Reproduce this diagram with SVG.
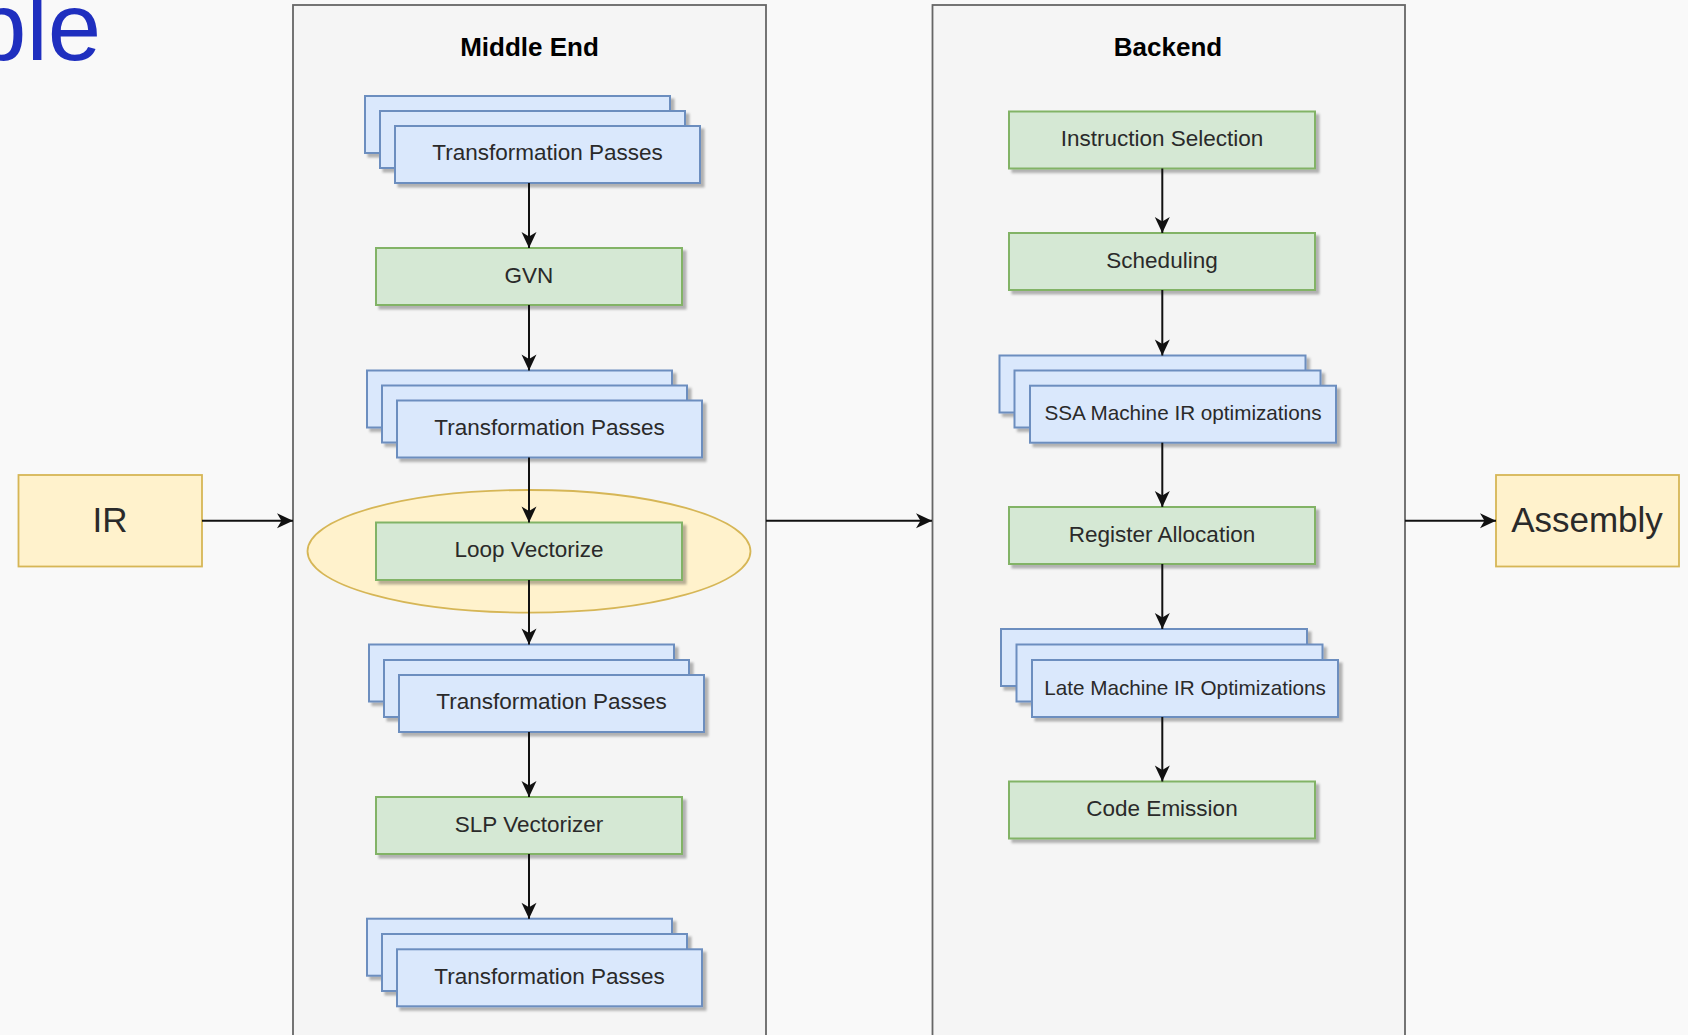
<svg xmlns="http://www.w3.org/2000/svg" width="1688" height="1035" viewBox="0 0 1688 1035">
<defs>
<style>
.bg{fill:#f9f9f9}
.cont{fill:#f5f5f5;stroke:#666;stroke-width:1.8}
.title{font-family:"Liberation Sans",Arial,sans-serif;font-weight:bold;font-size:26px;fill:#000;text-anchor:middle}
.g{fill:#d5e8d4;stroke:#82b366;stroke-width:2}
.b{fill:#dae8fc;stroke:#6c8ebf;stroke-width:2}
.y{fill:#fff2cc;stroke:#d6b656;stroke-width:1.8}
.t{font-family:"Liberation Sans",Arial,sans-serif;font-size:22.5px;fill:#2a2a2a;text-anchor:middle}
.ts{font-family:"Liberation Sans",Arial,sans-serif;font-size:20.7px;fill:#2a2a2a;text-anchor:middle}
.tl{font-family:"Liberation Sans",Arial,sans-serif;font-size:35px;fill:#2a2a2a;text-anchor:middle}
.sh{filter:url(#shadow)}
.edge{fill:none;stroke:#111;stroke-width:2;marker-end:url(#arr)}
</style>
<filter id="shadow" x="-10%" y="-20%" width="130%" height="150%">
<feDropShadow dx="3.5" dy="3.5" stdDeviation="0.9" flood-color="#000" flood-opacity="0.28"/>
</filter>
<marker id="arr" viewBox="0 0 20 20" markerUnits="userSpaceOnUse" markerWidth="20" markerHeight="20" refX="18" refY="10" orient="auto">
<path d="M2,2.5 L18,10 L2,17.5 L6.5,10 Z" fill="#111"/>
</marker>
</defs>
<rect class="bg" x="0" y="0" width="1688" height="1035"/>
<text x="-27" y="60" font-family="'Liberation Sans',Arial,sans-serif" font-size="96" fill="#1f2fbf">ble</text>

<g id="middle-end">
<rect class="cont" x="293" y="5" width="473" height="1040"/>
<text class="title" x="529.5" y="56">Middle End</text>
</g>
<g id="backend">
<rect class="cont" x="932.5" y="5" width="472.5" height="1040"/>
<text class="title" x="1168" y="56">Backend</text>
</g>

<g id="ir"><rect class="y" x="18.5" y="475" width="183.5" height="91.5"/><text class="tl" x="110" y="532">IR</text></g>
<g id="assembly"><rect class="y" x="1496" y="475" width="183" height="91.5"/><text class="tl" x="1587" y="532">Assembly</text></g>

<g id="tp1">
<rect class="b sh" x="365" y="96" width="305" height="57"/>
<rect class="b sh" x="380" y="111" width="305" height="57"/>
<rect class="b sh" x="395" y="126" width="305" height="57"/>
<text class="t" x="547.5" y="160">Transformation Passes</text>
</g>
<g id="gvn"><rect class="g sh" x="376" y="248" width="306" height="57"/><text class="t" x="529" y="282.5">GVN</text></g>
<g id="tp2">
<rect class="b sh" x="367" y="370.5" width="305" height="57"/>
<rect class="b sh" x="382" y="385.5" width="305" height="57"/>
<rect class="b sh" x="397" y="400.5" width="305" height="57"/>
<text class="t" x="549.5" y="434.5">Transformation Passes</text>
</g>
<g id="loop-vectorize">
<ellipse class="y" cx="529" cy="551.3" rx="221.5" ry="61.3"/>
<rect class="g sh" x="376" y="522.5" width="306" height="57.5"/><text class="t" x="529" y="557">Loop Vectorize</text>
</g>
<g id="tp3">
<rect class="b sh" x="369" y="644.5" width="305" height="57"/>
<rect class="b sh" x="384" y="660" width="305" height="57"/>
<rect class="b sh" x="399" y="675" width="305" height="57"/>
<text class="t" x="551.5" y="709">Transformation Passes</text>
</g>
<g id="slp"><rect class="g sh" x="376" y="797" width="306" height="57"/><text class="t" x="529" y="831.5">SLP Vectorizer</text></g>
<g id="tp4">
<rect class="b sh" x="367" y="918.7" width="305" height="57"/>
<rect class="b sh" x="382" y="934" width="305" height="57"/>
<rect class="b sh" x="397" y="949.3" width="305" height="57"/>
<text class="t" x="549.5" y="983.5">Transformation Passes</text>
</g>

<g id="instruction-selection"><rect class="g sh" x="1009" y="111.5" width="306" height="57"/><text class="t" x="1162" y="146">Instruction Selection</text></g>
<g id="scheduling"><rect class="g sh" x="1009" y="233" width="306" height="57"/><text class="t" x="1162" y="267.5">Scheduling</text></g>
<g id="ssa">
<rect class="b sh" x="999.5" y="355.5" width="306" height="57"/>
<rect class="b sh" x="1014.5" y="370.5" width="306" height="57"/>
<rect class="b sh" x="1030" y="385.7" width="306" height="57"/>
<text class="ts" x="1183" y="420">SSA Machine IR optimizations</text>
</g>
<g id="register-allocation"><rect class="g sh" x="1009" y="507" width="306" height="57"/><text class="t" x="1162" y="541.5">Register Allocation</text></g>
<g id="late">
<rect class="b sh" x="1001" y="629" width="306" height="57"/>
<rect class="b sh" x="1016.5" y="644.5" width="306" height="57"/>
<rect class="b sh" x="1032" y="660" width="306" height="57"/>
<text class="ts" x="1185" y="694.5">Late Machine IR Optimizations</text>
</g>
<g id="code-emission"><rect class="g sh" x="1009" y="781.5" width="306" height="57"/><text class="t" x="1162" y="816">Code Emission</text></g>

<g id="connectors">
<path class="edge" d="M202,520.7 L293,520.7"/>
<path class="edge" d="M766,520.7 L932,520.7"/>
<path class="edge" d="M1405,520.7 L1496,520.7"/>
<path class="edge" d="M529,183 L529,248"/>
<path class="edge" d="M529,305 L529,370.5"/>
<path class="edge" d="M529,457.5 L529,522.5"/>
<path class="edge" d="M529,580 L529,644.5"/>
<path class="edge" d="M529,732 L529,797"/>
<path class="edge" d="M529,854 L529,918.7"/>
<path class="edge" d="M1162.3,168.5 L1162.3,233"/>
<path class="edge" d="M1162.3,290 L1162.3,355.5"/>
<path class="edge" d="M1162.3,442.7 L1162.3,507"/>
<path class="edge" d="M1162.3,564 L1162.3,629"/>
<path class="edge" d="M1162.3,717 L1162.3,781.5"/>
</g>
</svg>
